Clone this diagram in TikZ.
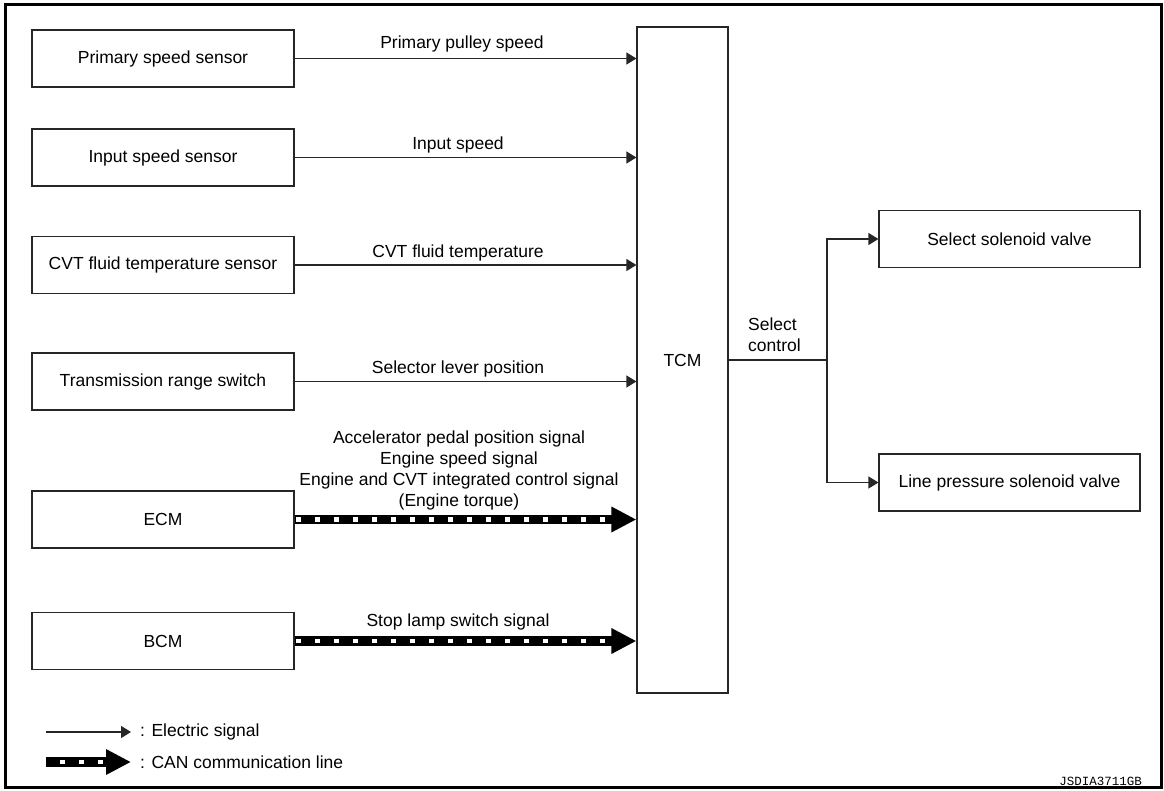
\documentclass[tikz,border=0pt]{standalone}
\usepackage{fontspec}
\setmainfont{Liberation Sans}
\newfontfamily\codefont{Liberation Mono}
\usetikzlibrary{arrows.meta}
\begin{document}
\begin{tikzpicture}[x=1pt,y=-1pt,
  lbl/.style={font=\fontsize{17.5}{21}\selectfont, inner sep=0pt},
  box/.style={draw=black!85, line width=1.2pt, minimum width=262pt, minimum height=57pt, inner sep=0pt, font=\fontsize{17.5}{21}\selectfont},
  esig/.style={draw=black!85, line width=1.2pt, -{Triangle[length=10pt,width=12pt]}},
  canline/.style={draw=black, line width=9.5pt, -{Triangle[length=25pt,width=24pt]}},
  candash/.style={draw=white, line width=4.5pt, dash pattern=on 4.5pt off 14.5pt},
  legdash/.style={draw=white, line width=4.5pt, dash pattern=on 4.5pt off 14.5pt, dash phase=5pt}
]
\useasboundingbox (0,0) rectangle (1164,790);
\draw[line width=3pt] (5.5,4) rectangle (1161,787);

% left boxes
\node[box] (ps)  at (163,58.5)  {Primary speed sensor};
\node[box] (is)  at (163,157.5) {Input speed sensor};
\node[box] (cvt) at (163,265)   {CVT fluid temperature sensor};
\node[box] (trs) at (163,381.5) {Transmission range switch};
\node[box] (ecm) at (163,519.5) {ECM};
\node[box] (bcm) at (163,641)   {BCM};

% TCM
\node[box, minimum width=91pt, minimum height=666pt] (tcm) at (682.5,360) {TCM};

% right boxes
\node[box, minimum width=261pt] (sel) at (1009.5,239)   {Select solenoid valve};
\node[box, minimum width=261pt] (lp)  at (1009.5,482.5) {Line pressure solenoid valve};

% electric signals
\draw[esig] (ps.east)  -- (ps.east -| tcm.west);
\draw[esig] (is.east)  -- (is.east -| tcm.west);
\draw[esig] (cvt.east) -- (cvt.east -| tcm.west);
\draw[esig] (trs.east) -- (trs.east -| tcm.west);

\node[lbl] (l1) at (462,44)    {Primary pulley speed};
\node[lbl] (l2) at (458,144.5) {Input speed};
\node[lbl] (l3) at (458,252.5) {CVT fluid temperature};
\node[lbl] (l4) at (458,368.5) {Selector lever position};

% CAN lines
\draw[canline] (ecm.east) -- (ecm.east -| tcm.west);
\draw[candash, shorten <=1.5pt] (ecm.east) -- ([xshift=-30pt]ecm.east -| tcm.west);
\draw[canline] (bcm.east) -- (bcm.east -| tcm.west);
\draw[candash, shorten <=1.5pt] (bcm.east) -- ([xshift=-30pt]bcm.east -| tcm.west);

\node[lbl, align=center] (l5) at (459,470.5) {Accelerator pedal position signal\\Engine speed signal\\Engine and CVT integrated control signal\\(Engine torque)};
\node[lbl] (l6) at (458,622) {Stop lamp switch signal};

% outputs
\coordinate (junc) at (827,360);
\draw[draw=black!85, line width=1.2pt] (tcm.east) -- (junc);
\draw[esig] (junc) |- (sel.west);
\draw[esig] (junc) |- (lp.west);
\node[lbl, align=left, anchor=west] (sc) at (748,334.5) {Select\\control};

% legend
\coordinate (e1) at (46,732);
\coordinate (e2) at (131,732);
\draw[esig] (e1) -- (e2);
\node[lbl, anchor=west] (le) at (140,732) {: Electric signal};
\coordinate (c1) at (46,762);
\coordinate (c2) at (131,762);
\draw[canline] (c1) -- (c2);
\draw[legdash] (c1) -- ([xshift=-26pt]c2);
\node[lbl, anchor=west] (lc) at (140,762) {: CAN communication line};

\node[font=\codefont\fontsize{12.5}{13}\selectfont, inner sep=0pt, anchor=east] (code) at (1142,781) {JSDIA3711GB};
\end{tikzpicture}
\end{document}
